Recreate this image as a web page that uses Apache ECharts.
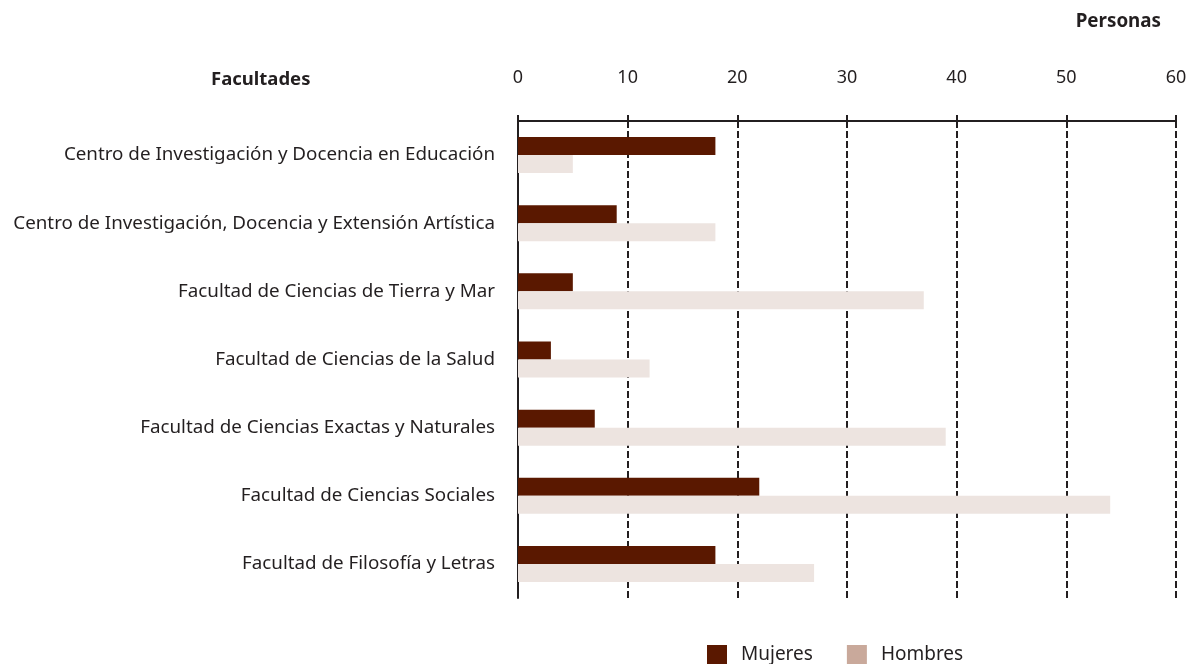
<!DOCTYPE html>
<html><head><meta charset="utf-8">
<script src="https://cdn.jsdelivr.net/npm/echarts@6/dist/echarts.min.js"></script>
<style>html,body{margin:0;padding:0;background:#fff}#c{width:1191px;height:664px}</style>
</head><body><div id="c"></div>
<script>
const categories = [
  "Centro de Investigación y Docencia en Educación",
  "Centro de Investigación, Docencia y Extensión Artística",
  "Facultad de Ciencias de Tierra y Mar",
  "Facultad de Ciencias de la Salud",
  "Facultad de Ciencias Exactas y Naturales",
  "Facultad de Ciencias Sociales",
  "Facultad de Filosofía y Letras"
];
const mujeres = [18, 9, 5, 3, 7, 22, 18];
const hombres = [5, 18, 37, 12, 39, 54, 27];
const seriesNames = ["Mujeres", "Hombres"];

const FONT = "Noto Sans";
const chart = echarts.init(document.getElementById('c'), null, {renderer: 'canvas'});
chart.setOption({
  animation: false,
  textStyle: {fontFamily: FONT},
  title: [
    {text: "Personas", right: 25, top: 7, textStyle: {fontFamily: FONT, fontSize: 18.8, fontWeight: 'bold', color: '#231f20'}},
    {text: "Facultades", left: 206, top: 65, textStyle: {fontFamily: FONT, fontSize: 18.5, fontWeight: 'bold', color: '#231f20'}}
  ],
  legend: {
    top: 640, left: 702, itemWidth: 20, itemHeight: 20, itemGap: 34,
    textStyle: {fontFamily: FONT, fontSize: 19, color: '#231f20', padding: [2,0,0,9]},
    data: [
      {name: seriesNames[0], icon: 'rect', itemStyle: {color: '#5a1800'}},
      {name: seriesNames[1], icon: 'rect', itemStyle: {color: '#c9a99b'}}
    ]
  },
  grid: {left: 518, right: 15, top: 121, bottom: 66, containLabel: false},
  xAxis: {
    type: 'value', position: 'top', min: 0, max: 60, interval: 10,
    axisLine: {show: true, lineStyle: {color: '#231f20', width: 2}},
    axisTick: {show: true, length: 6, lineStyle: {color: '#231f20', width: 2, type: [7,3]}},
    axisLabel: {margin: 34, fontFamily: FONT, fontSize: 18, color: '#231f20'},
    splitLine: {show: true, lineStyle: {color: '#231f20', width: 2, type: [7,3]}}
  },
  yAxis: {
    type: 'category', data: categories, inverse: true,
    axisLine: {show: true, lineStyle: {color: '#231f20', width: 2}},
    axisTick: {show: false},
    axisLabel: {margin: 23, fontFamily: FONT, fontSize: 18.8, color: '#231f20'}
  },
  series: [
    {name: seriesNames[0], type: 'bar', data: mujeres, barWidth: 18, barGap: '0%', itemStyle: {color: '#5a1800'}},
    {name: seriesNames[1], type: 'bar', data: hombres, barWidth: 18, barGap: '0%', itemStyle: {color: '#ede4e0'}}
  ]
});
</script></body></html>
